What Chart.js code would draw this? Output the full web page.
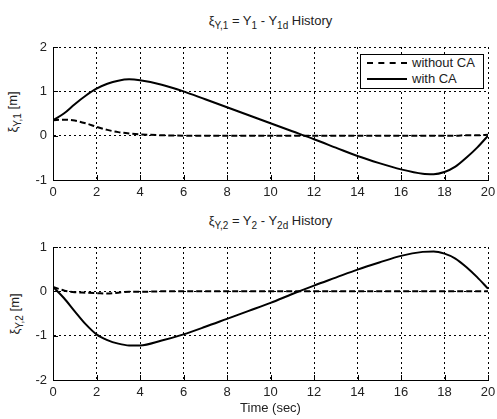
<!DOCTYPE html>
<html>
<head>
<meta charset="utf-8">
<script src="https://cdn.jsdelivr.net/npm/chart.js@4.4.0/dist/chart.umd.min.js"></script>
<style>
  body { margin: 0; background: #fff; font-family: "Liberation Sans", Arial, sans-serif; color: #222; }
  #wrap { position: relative; width: 497px; height: 419px; overflow: hidden; }
  .box { position: absolute; left: 0; width: 497px; }
  .title { position: absolute; left: 53px; width: 435px; text-align: center; font-size: 13px; }
  .title sub { font-size: 10px; }
  .ylab { position: absolute; font-size: 13px; transform: translate(-50%, -50%) rotate(-90deg); white-space: nowrap; }
  .ylab sub { font-size: 10px; }
  .xlab { position: absolute; left: 53px; width: 435px; text-align: center; font-size: 13px; top: 400px; }
  .legend { position: absolute; left: 360px; top: 54px; width: 122px; height: 33px; background: #fff; border: 1px solid #000; font-size: 13px; }
  .legend div { height: 16px; line-height: 16px; display: flex; align-items: center; }
  .legend span.ln { display: inline-block; width: 40px; margin: 0 5px 0 6px; border-top: 2px solid #000; }
  .legend span.dash { border-top-style: dashed; }
</style>
</head>
<body>
<div id="wrap">
  <div class="title" style="top:13px">&xi;<sub>Y,1</sub> = Y<sub>1</sub> - Y<sub>1d</sub> History</div>
  <div class="ylab" style="left:14px; top:112px">&xi;<sub>Y,1</sub> [m]</div>
  <div class="box" style="top:40px; height:166px"><canvas id="c1"></canvas></div>
  <div class="legend">
    <div><span class="ln dash"></span>without CA</div>
    <div><span class="ln"></span>with CA</div>
  </div>

  <div class="title" style="top:213px">&xi;<sub>Y,2</sub> = Y<sub>2</sub> - Y<sub>2d</sub> History</div>
  <div class="ylab" style="left:16px; top:314px">&xi;<sub>Y,2</sub> [m]</div>
  <div class="box" style="top:240px; height:166px"><canvas id="c2"></canvas></div>
  <div class="xlab">Time (sec)</div>
</div>
<script>
// time samples (sec)
const time = [0, 0.5, 1, 1.5, 2, 2.5, 3, 3.5, 4, 5, 6, 7, 8, 9, 10, 11, 12, 13, 14, 15, 16, 17, 17.5, 18, 18.5, 19, 19.5, 20];

// xi_Y,1
const y1Without = [0.35, 0.36, 0.34, 0.28, 0.20, 0.13, 0.08, 0.05, 0.03, 0.01, 0.0, 0.0, 0.0, 0.0, 0.0, 0.0, 0.0, 0.0, 0.0, 0.0, 0.0, 0.0, 0.0, 0.0, 0.0, 0.01, 0.01, 0.02];
const y1With = [0.35, 0.50, 0.71, 0.90, 1.06, 1.17, 1.24, 1.27, 1.25, 1.15, 1.00, 0.82, 0.64, 0.46, 0.28, 0.10, -0.08, -0.27, -0.46, -0.62, -0.76, -0.86, -0.87, -0.82, -0.70, -0.50, -0.27, 0.0];

// xi_Y,2
const y2Without = [0.10, 0.02, -0.02, -0.03, -0.04, -0.05, -0.03, -0.01, -0.01, 0.0, 0.0, 0.0, 0.0, 0.0, 0.0, 0.0, 0.0, 0.0, 0.0, 0.0, 0.0, 0.0, 0.0, 0.0, 0.0, 0.0, 0.0, 0.0];
const y2With = [0.10, -0.15, -0.45, -0.74, -0.97, -1.10, -1.18, -1.22, -1.22, -1.11, -0.97, -0.80, -0.62, -0.44, -0.26, -0.06, 0.13, 0.31, 0.49, 0.65, 0.80, 0.89, 0.90, 0.85, 0.74, 0.55, 0.32, 0.06];

const xTicks = [0, 2, 4, 6, 8, 10, 12, 14, 16, 18, 20];

const tickFont = { family: 'Liberation Sans', size: 13 };

// short ticks pointing into the plot, like the original
const innerTicks = {
    id: 'innerTicks',
    afterDraw(chart) {
        const { ctx, chartArea, scales } = chart;
        ctx.save();
        ctx.strokeStyle = '#000';
        ctx.lineWidth = 1;
        ctx.beginPath();
        scales.x.ticks.forEach(t => {
            const px = Math.round(scales.x.getPixelForValue(t.value)) + 0.5;
            ctx.moveTo(px, chartArea.bottom);
            ctx.lineTo(px, chartArea.bottom - 5);
        });
        scales.y.ticks.forEach(t => {
            const py = Math.round(scales.y.getPixelForValue(t.value)) + 0.5;
            ctx.moveTo(chartArea.left, py);
            ctx.lineTo(chartArea.left + 5, py);
        });
        ctx.stroke();
        ctx.restore();
    }
};

function makeChart(id, without, withCA, yMin, yMax) {
    const pts = arr => arr.map((v, i) => ({ x: time[i], y: v }));
    return new Chart(document.getElementById(id), {
        type: 'line',
        data: {
            datasets: [
                {
                    label: 'without CA',
                    data: pts(without),
                    borderColor: '#000',
                    borderWidth: 2,
                    borderDash: [6, 3],
                    pointRadius: 0,
                    fill: false,
                    cubicInterpolationMode: 'monotone'
                },
                {
                    label: 'with CA',
                    data: pts(withCA),
                    borderColor: '#000',
                    borderWidth: 2,
                    pointRadius: 0,
                    fill: false,
                    cubicInterpolationMode: 'monotone'
                }
            ]
        },
        options: {
            responsive: true,
            maintainAspectRatio: false,
            animation: false,
            layout: { padding: { top: 7, right: 9, left: 0, bottom: 0 } },
            plugins: {
                legend: { display: false },
                tooltip: { enabled: false }
            },
            scales: {
                x: {
                    type: 'linear',
                    min: 0,
                    max: 20,
                    afterBuildTicks: axis => { axis.ticks = xTicks.map(v => ({ value: v })); },
                    afterFit: axis => {
                        axis.height = 26;
                        axis.paddingLeft = 0;
                        axis.paddingRight = 0;
                    },
                    grid: { color: '#000', lineWidth: 1, drawTicks: false },
                    border: { display: true, color: '#000', width: 1, dash: [2, 3] },
                    ticks: { color: '#222', font: tickFont, padding: 5, maxRotation: 0 }
                },
                y: {
                    min: yMin,
                    max: yMax,
                    afterFit: axis => {
                        axis.width = 53;
                        axis.paddingTop = 0;
                        axis.paddingBottom = 0;
                    },
                    grid: { color: '#000', lineWidth: 1, drawTicks: false },
                    border: { display: true, color: '#000', width: 1, dash: [2, 3] },
                    ticks: { stepSize: 1, color: '#222', font: tickFont, padding: 6 }
                }
            }
        },
        plugins: [innerTicks]
    });
}

makeChart('c1', y1Without, y1With, -1, 2);
makeChart('c2', y2Without, y2With, -2, 1);
</script>
</body>
</html>
